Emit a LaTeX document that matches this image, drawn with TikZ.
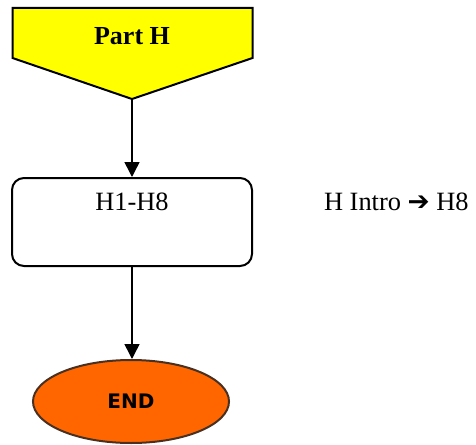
\documentclass[tikz,border=0pt]{standalone}
\usepackage{fontspec}
\setmainfont{Liberation Serif}
\newfontfamily\symfont{DejaVu Sans}
\usepackage{tikz}
\usetikzlibrary{arrows.meta, shapes.geometric, positioning}
\definecolor{Banner}  {HTML}{FFFF00}
\definecolor{Finish}  {HTML}{FF6600}
\definecolor{Rim}     {HTML}{4A3020}

\tikzset{
  flow/.style={draw, line width=0.75pt, -{Triangle[length=7.5pt, width=7.5pt]}},
  stepbox/.style={draw, line width=1pt, rounded corners=6pt,
                  minimum width=120pt, minimum height=44pt},
  endcap/.style={ellipse, draw=Rim, line width=1pt, fill=Finish,
                 minimum width=98pt, minimum height=41.5pt, inner sep=0pt,
                 font=\symfont\bfseries\fontsize{10}{12}\selectfont}
}

\begin{document}
\begin{tikzpicture}[x=0.5pt, y=-0.5pt]
  \useasboundingbox (0,0) rectangle (476,444);
  % Banner at the top
  \filldraw[fill=Banner, draw=black, line width=1pt, line join=miter]
    (12.5,8) -- (252.5,8) -- (252.5,58) -- (132,99) -- (12.5,58) -- cycle;
  \coordinate (tip) at (132,99);
  \node[font=\bfseries\fontsize{13}{15}\selectfont] (part) at (132,36) {Part H};
  % Steps
  \node[stepbox] (steps) at (132,222) {};
  \node[font=\fontsize{13.2}{15}\selectfont] (range) at (132,202) {H1-H8};
  \node[font=\fontsize{13.2}{15}\selectfont, anchor=west] (note) at (317,202)
    {H Intro {\symfont\bfseries ➔} H8};
  \node[endcap] (finish) at (131,401.5) {END};
  % Connectors
  \draw[flow] (tip) -- (steps.north);
  \draw[flow] (steps.south) -- (finish.north -| steps.south);
\end{tikzpicture}
\end{document}
